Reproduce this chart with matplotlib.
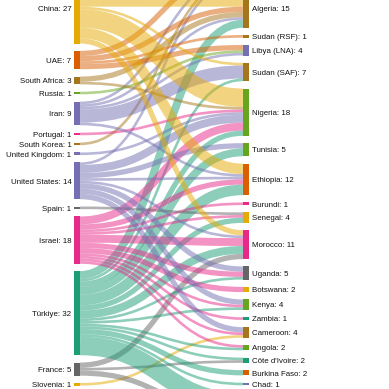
import matplotlib
import matplotlib.pyplot as plt
from matplotlib.path import Path
from matplotlib.patches import PathPatch, Rectangle

matplotlib.use("Agg")

# left column (suppliers) and right column (recipients), top to bottom
sources = ["China", "UAE", "South Africa", "Russia", "Iran", "Portugal", "South Korea",
           "United Kingdom", "United States", "Spain", "Israel", "Türkiye", "France", "Slovenia"]
source_values = [27, 7, 3, 1, 9, 1, 1, 1, 14, 1, 18, 32, 5, 1]

targets = ["Algeria", "Sudan (RSF)", "Libya (LNA)", "Sudan (SAF)", "Nigeria", "Tunisia",
           "Ethiopia", "Burundi", "Senegal", "Morocco", "Uganda", "Botswana", "Kenya",
           "Zambia", "Cameroon", "Angola", "Côte d'Ivoire", "Burkina Faso", "Chad"]
target_values = [15, 1, 4, 7, 18, 5, 12, 1, 4, 11, 5, 2, 4, 1, 4, 2, 2, 2, 1]

# recipients that sit outside the cropped frame (above Algeria / below Chad)
hidden_above_value = 11
hidden_below_value = 9

flows = [
    ("China", "_above", 6), ("UAE", "_above", 2), ("Iran", "_above", 1),
    ("South Korea", "_above", 1), ("United States", "_above", 1),
    ("China", "Algeria", 7), ("UAE", "Algeria", 2), ("South Africa", "Algeria", 2),
    ("Iran", "Algeria", 1), ("Türkiye", "Algeria", 3),
    ("UAE", "Sudan (RSF)", 1),
    ("UAE", "Libya (LNA)", 2), ("Russia", "Libya (LNA)", 1), ("Iran", "Libya (LNA)", 1),
    ("China", "Sudan (SAF)", 1), ("Iran", "Sudan (SAF)", 5), ("Türkiye", "Sudan (SAF)", 1),
    ("China", "Nigeria", 7), ("South Africa", "Nigeria", 1), ("Portugal", "Nigeria", 1),
    ("United Kingdom", "Nigeria", 1), ("United States", "Nigeria", 3), ("Israel", "Nigeria", 3),
    ("Türkiye", "Nigeria", 2),
    ("United States", "Tunisia", 2), ("Türkiye", "Tunisia", 3),
    ("China", "Ethiopia", 4), ("Iran", "Ethiopia", 1), ("United States", "Ethiopia", 1),
    ("Israel", "Ethiopia", 2), ("Türkiye", "Ethiopia", 4),
    ("Israel", "Burundi", 1),
    ("Spain", "Senegal", 1), ("Israel", "Senegal", 1), ("Türkiye", "Senegal", 2),
    ("China", "Morocco", 2), ("United States", "Morocco", 1), ("Israel", "Morocco", 3),
    ("Türkiye", "Morocco", 3), ("France", "Morocco", 2),
    ("United States", "Uganda", 2), ("Israel", "Uganda", 2), ("Türkiye", "Uganda", 1),
    ("Israel", "Botswana", 2),
    ("United States", "Kenya", 2), ("Israel", "Kenya", 1), ("Türkiye", "Kenya", 1),
    ("Israel", "Zambia", 1),
    ("United States", "Cameroon", 2), ("Israel", "Cameroon", 1), ("Slovenia", "Cameroon", 1),
    ("Israel", "Angola", 1), ("Türkiye", "Angola", 1),
    ("France", "Côte d'Ivoire", 1), ("Türkiye", "Côte d'Ivoire", 1),
    ("Türkiye", "Burkina Faso", 2),
    ("Türkiye", "Chad", 1),
    ("Türkiye", "_below", 7), ("France", "_below", 2),
]

# d3 schemeDark2
teal, orange, purple, pink, green, yellow, brown, gray = (
    "#1b9e77", "#d95f02", "#7570b3", "#e7298a", "#66a61e", "#e6ab02", "#a6761d", "#666666")
source_colors = [yellow, orange, brown, green, purple, pink, brown,
                 purple, purple, gray, pink, teal, gray, yellow]
target_colors = [brown, brown, purple, brown, green, green, orange, pink, yellow, pink,
                 gray, yellow, green, teal, brown, green, teal, orange, purple]

# layout (pixels)
W = H = 389
ky = 2.63
pad = 7.3
left_x0, left_x1 = 74, 80
right_x0, right_x1 = 243, 249
left_top = -27.5
right_top = -11.7 - pad - hidden_above_value * ky

node = {}
y = left_top
for name, v, c in zip(sources, source_values, source_colors):
    node[name] = dict(y0=y, y1=y + v * ky, color=c, side="L", value=v)
    y += v * ky + pad

y = right_top
right_names = ["_above"] + targets + ["_below"]
right_values = [hidden_above_value] + target_values + [hidden_below_value]
right_colors = [gray] + target_colors + [gray]
for name, v, c in zip(right_names, right_values, right_colors):
    node[name] = dict(y0=y, y1=y + v * ky, color=c, side="R", value=v)
    y += v * ky + pad

# stack links inside each node, ordered by the other end's position
links = []
for s, t, v in flows:
    links.append(dict(s=s, t=t, w=v * ky))
for name, n in node.items():
    if n["side"] == "L":
        out = sorted([l for l in links if l["s"] == name], key=lambda l: node[l["t"]]["y0"])
        yy = n["y0"]
        for l in out:
            l["ys"] = yy + l["w"] / 2
            yy += l["w"]
    else:
        inc = sorted([l for l in links if l["t"] == name], key=lambda l: node[l["s"]]["y0"])
        yy = n["y0"]
        for l in inc:
            l["yt"] = yy + l["w"] / 2
            yy += l["w"]

fig = plt.figure(figsize=(W / 100, H / 100), dpi=100)
ax = fig.add_axes([0, 0, 1, 1])
ax.set_xlim(0, W)
ax.set_ylim(H, 0)
ax.axis("off")

xm = (left_x1 + right_x0) / 2
for l in links:
    path = Path([(left_x1, l["ys"]), (xm, l["ys"]), (xm, l["yt"]), (right_x0, l["yt"])],
                [Path.MOVETO, Path.CURVE4, Path.CURVE4, Path.CURVE4])
    ax.add_patch(PathPatch(path, fill=False, edgecolor=node[l["s"]]["color"],
                           alpha=0.5, lw=l["w"] * 0.72, capstyle="butt"))

fs_px = 7.9
for name, n in node.items():
    if name.startswith("_"):
        continue
    x0, x1 = (left_x0, left_x1) if n["side"] == "L" else (right_x0, right_x1)
    ax.add_patch(Rectangle((x0, n["y0"]), x1 - x0, n["y1"] - n["y0"], color=n["color"], lw=0))
    yc = (n["y0"] + n["y1"]) / 2 + 0.35 * fs_px
    label = f"{name}: {n['value']}"
    if n["side"] == "L":
        ax.text(x0 - 2.5, yc, label, ha="right", va="baseline", fontsize=fs_px * 0.72,
                family="Liberation Sans", color="#111111")
    else:
        ax.text(x1 + 3, yc, label, ha="left", va="baseline", fontsize=fs_px * 0.72,
                family="Liberation Sans", color="#111111")

fig.savefig("out.png", dpi=100)
